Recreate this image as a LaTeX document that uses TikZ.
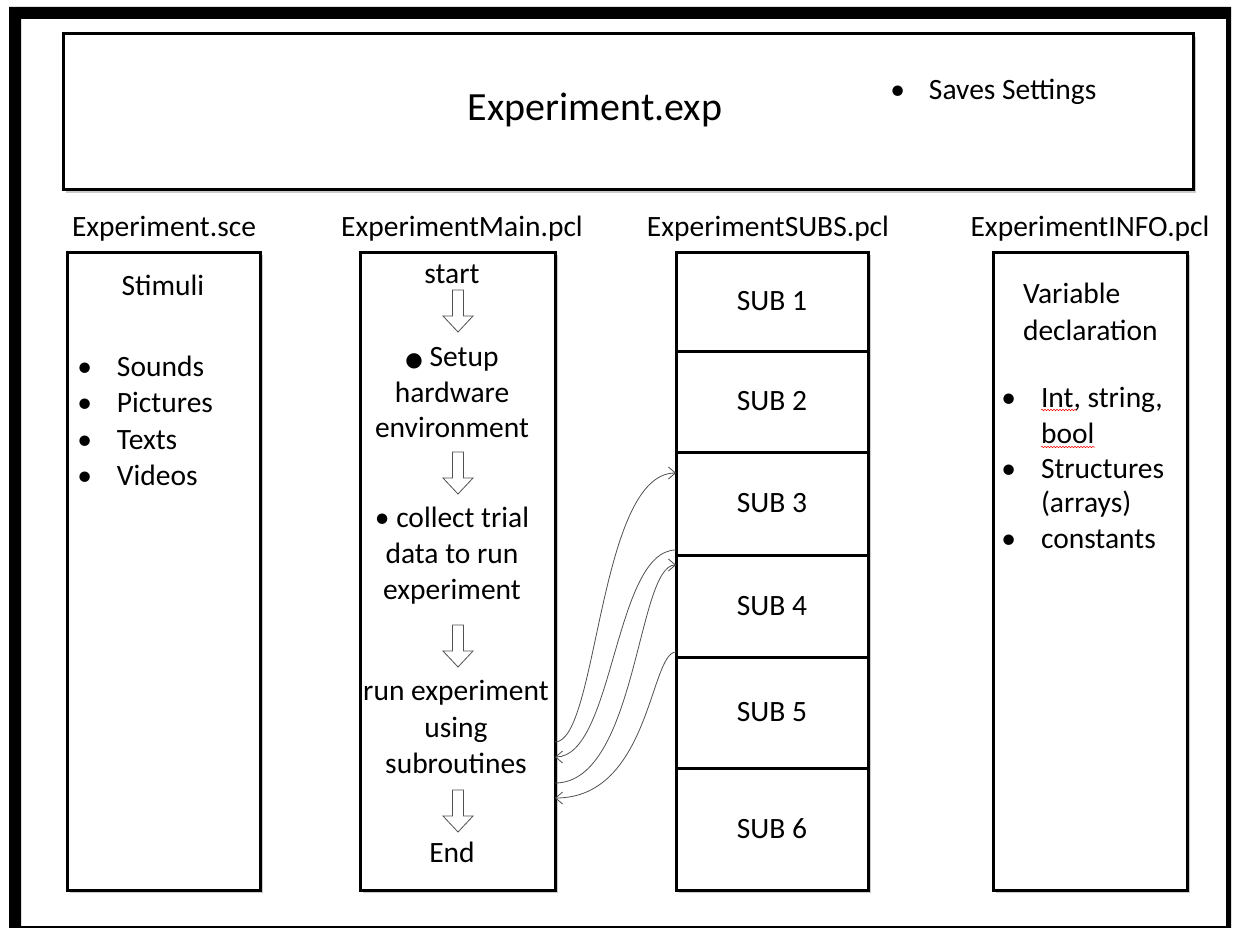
\documentclass[tikz,border=0pt]{standalone}
\usepackage{fontspec}
\setmainfont{Carlito}
\newfontfamily\symfont{DejaVu Sans}
\usetikzlibrary{arrows.meta,positioning,shadows,decorations.pathmorphing}
\definecolor{Wire}{HTML}{505050}
\definecolor{Shade}{HTML}{8C8C8C}

\tikzset{pics/flowdown/.style={code={
  \draw[Wire,fill=white,line width=.8pt] (-5.5,0) -- (5.5,0) -- (5.5,26) -- (15,26)
       -- (0,42) -- (-15,26) -- (-5.5,26) -- cycle;}}}

\begin{document}
\begin{tikzpicture}[x=1pt,y=-1pt,
    every node/.style={font=\fontsize{29.5}{36}\selectfont,inner sep=0pt,outer sep=0pt},
    panel/.style={draw,line width=3pt,fill=white,
                  drop shadow={shadow xshift=3pt,shadow yshift=-3pt,fill=Shade,opacity=.45}},
    cell/.style={draw,line width=3pt,minimum width=192pt},
    row/.style={anchor=base},
    item/.style={anchor=base west},
    call/.style={-{Straight Barb[length=7pt,width=12pt]},Wire,line width=.8pt},
    typo/.style={red,line width=.5pt,decorate,decoration={snake,amplitude=.7pt,segment length=3pt}}]
  \fill[white] (0,0) rectangle (1236,928);
  \useasboundingbox (0,0) rectangle (1236,928);
  % screenshot frame
  \fill[black,even odd rule] (9,7) rectangle (1231,928) (21,19) rectangle (1226,926);

  % settings file
  \node[panel,minimum width=1130pt,minimum height=156pt] (exp) at (628,112) {};
  \node[row,font=\fontsize{40}{48}\selectfont] (title) at (595,121) {Experiment.exp};
  \node[item] (saves) at (929,100) {\llap{\textbullet\hspace{24pt}}Saves Settings};

  % column headers
  \node[row] (hsce)  at (164,236)  {Experiment.sce};
  \node[row] (hmain) at (462,236)  {ExperimentMain.pcl};
  \node[row] (hsubs) at (768,236)  {ExperimentSUBS.pcl};
  \node[row] (hinfo) at (1090,236) {ExperimentINFO.pcl};

  % columns
  \node[panel,minimum width=193pt,minimum height=638pt] (sce)  at (163.5,571) {};
  \node[panel,minimum width=195pt,minimum height=638pt] (main) at (457.5,571) {};
  \node[panel,minimum width=192pt,minimum height=638pt] (subs) at (772,571)   {};
  \node[panel,minimum width=194pt,minimum height=638pt] (info) at (1090,571)  {};

  % scenario
  \node[row] (stim) at (163,295) {Stimuli};
  \foreach \txt [count=\i] in {Sounds,Pictures,Texts,Videos}
    \node[item] (stim\i) at (117,{376+36.5*(\i-1)}) {\llap{\textbullet\hspace{25pt}}\txt};

  % main program
  \node[row] (start) at (452,283) {start};
  \node[row] (setup1) at (452,366) {{\symfont\fontsize{20}{20}\selectfont ●} Setup};
  \node[row] (setup2) at (452,402) {hardware};
  \node[row] (setup3) at (452,437) {environment};
  \node[row] (coll1) at (452,527) {\textbullet\ collect trial};
  \node[row] (coll2) at (452,563) {data to run};
  \node[row] (coll3) at (452,599) {experiment};
  \node[row] (run1) at (456,700) {run experiment};
  \node[row] (run2) at (456,737) {using};
  \node[row] (run3) at (456,773) {subroutines};
  \node[row] (end) at (452,862) {End};
  \foreach \yy in {290,452,625,790}
    \pic at (458,\yy) {flowdown};

  % subroutines
  \foreach \ya/\yb [count=\i] in {252/351,351/452,452/555,555/657,657/768,768/890}
    \node[cell,minimum height={\yb-\ya}] (sub\i) at (772,{(\ya+\yb)/2}) {SUB \i};

  % declarations
  \node[item] (var1) at (1023,303) {Variable};
  \node[item] (var2) at (1023,340) {declaration};
  \node[item] (int)  at (1041,407) {\llap{\textbullet\hspace{25pt}}Int, string,};
  \node[item] (bool) at (1041,443) {bool};
  \node[item] (str)  at (1041,478) {\llap{\textbullet\hspace{25pt}}Structures};
  \node[item] (arr)  at (1041,512) {(arrays)};
  \node[item] (cst)  at (1041,548) {\llap{\textbullet\hspace{25pt}}constants};
  \draw[typo] (1041,410) -- (1076,410);
  \draw[typo] (1041,447) -- (1095,447);

  % calls into the subroutines
  \draw[call] ([yshift=-171pt]main.east) .. controls (598,742) and (598,473) .. ([yshift=-21pt]sub3.north west);
  \draw[call] ([yshift=5pt]sub3.south west) .. controls (614,550) and (614,757) .. ([yshift=-186pt]main.east);
  \draw[call] ([yshift=-212pt]main.east) .. controls (637,783) and (637,565) .. ([yshift=-10pt]sub4.north west);
  \draw[call] ([yshift=5pt]sub4.south west) .. controls (650,652) and (650,798) .. ([yshift=-227pt]main.east);
\end{tikzpicture}
\end{document}
